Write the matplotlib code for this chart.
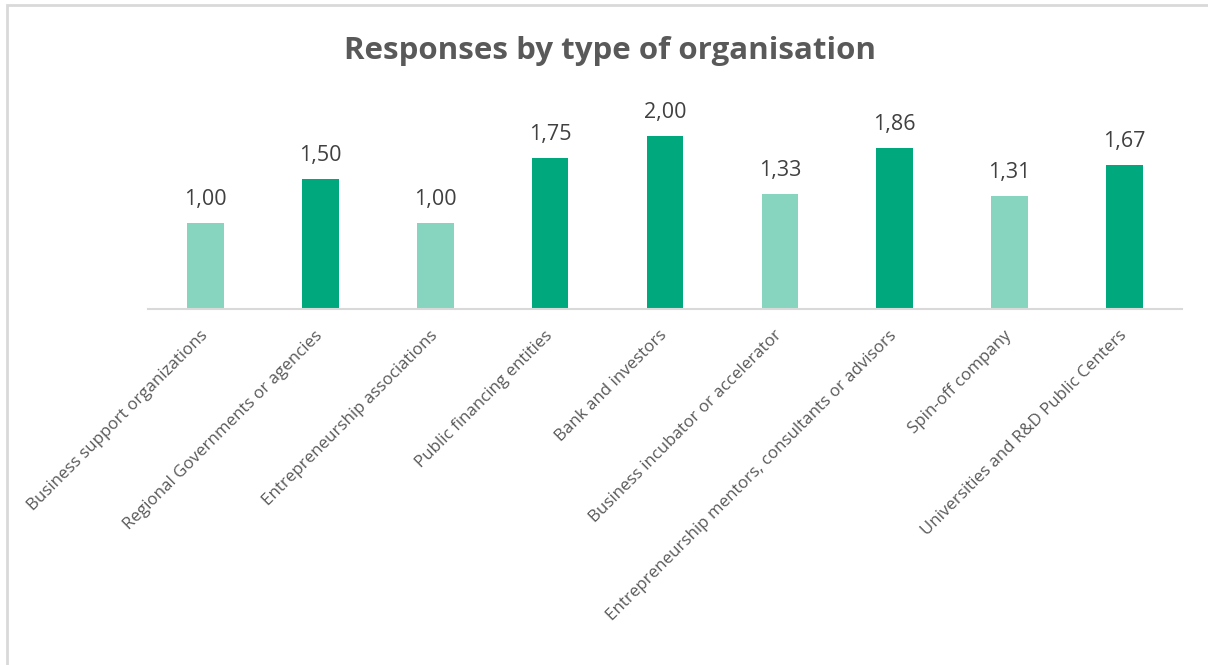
import matplotlib.pyplot as plt
from matplotlib.patches import Rectangle
import numpy as np

plt.rcParams['font.family'] = ['Open Sans', 'DejaVu Sans']

# responses per organisation type
categories = ["Business support organizations", "Regional Governments or agencies",
              "Entrepreneurship associations", "Public financing entities",
              "Bank and investors", "Business incubator or accelerator",
              "Entrepreneurship mentors, consultants or advisors", "Spin-off company",
              "Universities and R&D Public Centers"]
values = [1.00, 1.50, 1.00, 1.75, 2.00, 1.33, 1.86, 1.31, 1.67]

light_green = '#88D5BF'
dark_green = '#00A87D'

fig = plt.figure(figsize=(12.08, 6.65), dpi=100)
ax = fig.add_axes([148 / 1208, 1 - 309.5 / 665, 1034 / 1208, 216.7 / 665])

x = np.arange(len(categories))
colors = [dark_green if v >= 1.5 else light_green for v in values]
ax.bar(x, values, width=0.32, color=colors, zorder=2)

for i, v in enumerate(values):
    ax.annotate(f"{v:.2f}".replace('.', ','), (i, v), xytext=(0, 13),
                textcoords='offset points', ha='center', va='baseline',
                fontsize=15.5, color='#404040')

ax.set_xlim(-0.5, len(categories) - 0.5)
ax.set_ylim(0, 2.5)
ax.set_yticks([])
for side in ['top', 'right', 'left']:
    ax.spines[side].set_visible(False)
ax.spines['bottom'].set_color('#D9D9D9')
ax.spines['bottom'].set_linewidth(1.5)

ax.set_xticks(x)
ax.set_xticklabels(categories, rotation=45, ha='right', va='center',
                   rotation_mode='anchor', fontsize=12.2, color='#595959')
ax.tick_params(axis='x', length=0, pad=17)

fig.text(0.505, 1 - 51 / 665, "Responses by type of organisation", ha='center', va='center',
         fontsize=22.5, fontweight='bold', color='#595959')

# chart frame, only top and left edges fall inside the image
fig.patches.append(Rectangle((7 / 1208, -0.1), 1.2, 1.1 - 5.5 / 665, transform=fig.transFigure,
                             fill=False, edgecolor='#D9D9D9', linewidth=2, figure=fig))

fig.savefig("out.png", dpi=100)
